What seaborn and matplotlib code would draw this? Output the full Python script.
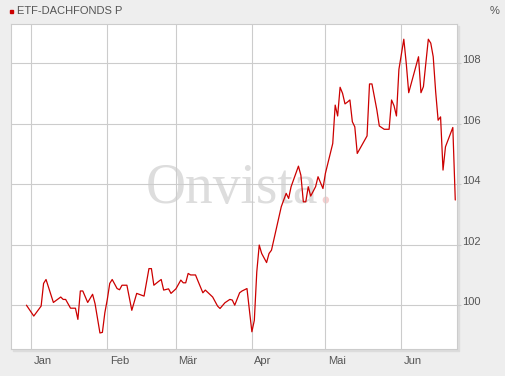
import matplotlib
matplotlib.use("Agg")
import pandas as pd
import matplotlib.pyplot as plt
from matplotlib.transforms import ScaledTranslation
from matplotlib.patches import Rectangle
import seaborn as sns

# Data
dates = [
    "2014-12-30", "2015-01-02", "2015-01-05", "2015-01-06", "2015-01-07",
    "2015-01-10", "2015-01-13", "2015-01-14", "2015-01-15", "2015-01-17",
    "2015-01-19", "2015-01-20", "2015-01-21", "2015-01-22", "2015-01-24",
    "2015-01-26", "2015-01-27", "2015-01-29", "2015-01-30", "2015-01-31",
    "2015-02-01", "2015-02-02", "2015-02-03", "2015-02-05", "2015-02-06",
    "2015-02-07", "2015-02-09", "2015-02-11", "2015-02-13", "2015-02-14",
    "2015-02-16", "2015-02-18", "2015-02-19", "2015-02-20", "2015-02-22",
    "2015-02-23", "2015-02-24", "2015-02-26", "2015-02-27", "2015-03-01",
    "2015-03-03", "2015-03-04", "2015-03-05", "2015-03-06", "2015-03-07",
    "2015-03-09", "2015-03-10", "2015-03-12", "2015-03-13", "2015-03-16",
    "2015-03-18", "2015-03-19", "2015-03-21", "2015-03-23", "2015-03-24",
    "2015-03-25", "2015-03-27", "2015-03-28", "2015-03-30", "2015-03-31",
    "2015-04-01", "2015-04-02", "2015-04-03", "2015-04-04", "2015-04-05",
    "2015-04-07", "2015-04-08", "2015-04-09", "2015-04-13", "2015-04-15",
    "2015-04-16", "2015-04-17", "2015-04-20", "2015-04-21", "2015-04-22",
    "2015-04-23", "2015-04-24", "2015-04-25", "2015-04-27", "2015-04-28",
    "2015-04-30", "2015-05-01", "2015-05-04", "2015-05-05", "2015-05-06",
    "2015-05-07", "2015-05-08", "2015-05-09", "2015-05-10", "2015-05-11",
    "2015-05-12", "2015-05-13", "2015-05-14", "2015-05-18", "2015-05-19",
    "2015-05-20", "2015-05-22", "2015-05-23", "2015-05-25", "2015-05-27",
    "2015-05-28", "2015-05-29", "2015-05-30", "2015-05-31", "2015-06-02",
    "2015-06-03", "2015-06-04", "2015-06-08", "2015-06-09", "2015-06-10",
    "2015-06-12", "2015-06-13", "2015-06-14", "2015-06-15", "2015-06-16",
    "2015-06-17", "2015-06-18", "2015-06-19", "2015-06-22", "2015-06-23",
]
values = [
    100.00, 99.64, 99.97, 100.72, 100.85,
    100.09, 100.27, 100.19, 100.19, 99.90,
    99.90, 99.53, 100.47, 100.47, 100.09,
    100.36, 100.05, 99.08, 99.10, 99.75,
    100.19, 100.72, 100.85, 100.55, 100.51,
    100.66, 100.66, 99.83, 100.39, 100.36,
    100.30, 101.21, 101.21, 100.66, 100.79,
    100.85, 100.50, 100.54, 100.39, 100.54,
    100.83, 100.74, 100.74, 101.05, 101.00,
    101.00, 100.80, 100.41, 100.50, 100.27,
    99.97, 99.89, 100.08, 100.19, 100.17,
    100.00, 100.41, 100.47, 100.55, 99.83,
    99.12, 99.50, 101.10, 101.99, 101.71,
    101.41, 101.71, 101.82, 103.26, 103.70,
    103.53, 103.92, 104.60, 104.30, 103.42,
    103.42, 103.92, 103.61, 103.92, 104.25,
    103.86, 104.36, 105.35, 106.62, 106.26,
    107.21, 107.01, 106.66, 106.72, 106.79,
    106.07, 105.90, 105.02, 105.60, 107.32,
    107.32, 106.46, 105.93, 105.82, 105.82,
    106.79, 106.60, 106.26, 107.80, 108.80,
    108.00, 107.03, 108.22, 107.03, 107.23,
    108.80, 108.67, 108.22, 107.06, 106.12,
    106.23, 104.47, 105.24, 105.88, 103.48,
]
month_ticks = ["2015-01-01", "2015-02-01", "2015-03-01",
               "2015-04-01", "2015-05-01", "2015-06-01"]
month_labels = ["Jan", "Feb", "Mär", "Apr", "Mai", "Jun"]
y_ticks = [100, 102, 104, 106, 108]

sns.set_style("white")
plt.rcParams["font.family"] = ["Liberation Sans", "DejaVu Sans"]

df = pd.DataFrame({"date": pd.to_datetime(dates), "value": values})

W, H = 505, 376
fig = plt.figure(figsize=(W / 100, H / 100), dpi=100, facecolor="#eeeeee")
left, right, top, bottom = 10.5, 456.7, 23.5, 349.3
ax = fig.add_axes([left / W, 1 - bottom / H, (right - left) / W, (bottom - top) / H])
ax.set_facecolor("white")

# soft shadow behind plot area
fig.patches.append(Rectangle(((left + 2) / W, 1 - (bottom + 2) / H),
                             (right - left) / W, (bottom - top) / H,
                             transform=fig.transFigure, color="#dcdcdc", zorder=-1))

sns.lineplot(data=df, x="date", y="value", ax=ax, color="#cc0000",
             linewidth=0.9, zorder=3)

ax.set_xlim(pd.Timestamp("2014-12-23 12:00"), pd.Timestamp("2015-06-23 14:00"))
ax.set_ylim(98.54, 109.32)
ax.set_xlabel("")
ax.set_ylabel("")

ax.set_xticks(pd.to_datetime(month_ticks))
ax.set_xticklabels(month_labels, ha="left")
ax.yaxis.tick_right()
ax.set_yticks(y_ticks)
ax.set_yticklabels([str(v) for v in y_ticks])

ax.grid(True, color="#cccccc", linewidth=0.8)
ax.tick_params(axis="x", length=4.5, width=0.8, color="#cccccc", pad=0.5,
               labelsize=8, labelcolor="#555555")
ax.tick_params(axis="y", length=3, width=0.8, color="#cccccc", pad=0.8,
               labelsize=8, labelcolor="#555555")
for s in ax.spines.values():
    s.set_color("#cccccc")
    s.set_linewidth(0.8)

shift = ScaledTranslation(2.4 / 100, 0, fig.dpi_scale_trans)
for lab in ax.get_xticklabels():
    lab.set_transform(lab.get_transform() + shift)
for lab in ax.get_yticklabels():
    lab.set_verticalalignment("baseline")

# watermark
ax.text(318 / W, 1 - 203 / H, "Onvista", transform=fig.transFigure,
        ha="right", va="baseline", family="Liberation Serif", fontsize=40,
        color="#dddddd", zorder=0.4)
ax.text(318 / W, 1 - 203 / H, ".", transform=fig.transFigure,
        ha="left", va="baseline", family="Liberation Serif", fontsize=40,
        color="#f5d0d0", zorder=0.4)

# header
fig.patches.append(Rectangle((10.3 / W, 1 - 12.5 / H), 3 / W, 3 / H,
                             transform=fig.transFigure, color="#cc0000"))
fig.text(17 / W, 1 - 11.3 / H, "ETF-DACHFONDS P", va="center", ha="left",
         fontsize=8, color="#555555")
fig.text(500 / W, 1 - 11.3 / H, "%", va="center", ha="right",
         fontsize=8, color="#555555")

fig.savefig("out.png", dpi=100, facecolor=fig.get_facecolor())
